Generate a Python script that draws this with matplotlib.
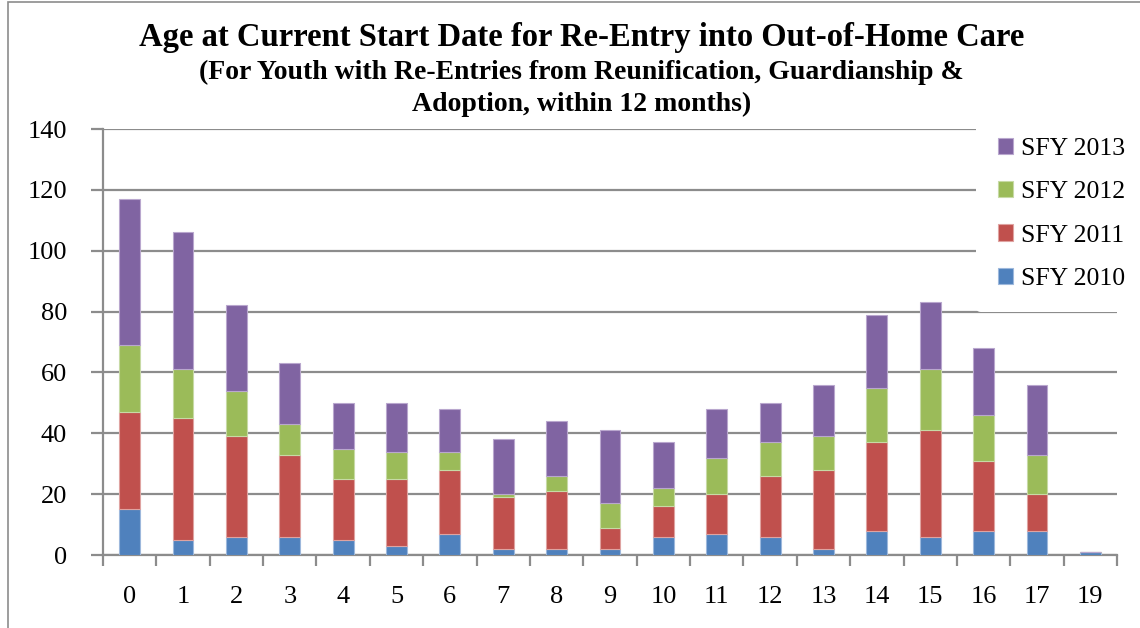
import matplotlib
matplotlib.use("Agg")
import matplotlib.pyplot as plt
import numpy as np
from matplotlib.patches import Rectangle

categories = ["0", "1", "2", "3", "4", "5", "6", "7", "8", "9", "10", "11", "12", "13", "14", "15", "16", "17", "19"]
sfy2010 = [15, 5, 6, 6, 5, 3, 7, 2, 2, 2, 6, 7, 6, 2, 8, 6, 8, 8, 1]
sfy2011 = [32, 40, 33, 27, 20, 22, 21, 17, 19, 7, 10, 13, 20, 26, 29, 35, 23, 12, 0]
sfy2012 = [22, 16, 15, 10, 10, 9, 6, 1, 5, 8, 6, 12, 11, 11, 18, 20, 15, 13, 0]
sfy2013 = [48, 45, 28, 20, 15, 16, 14, 18, 18, 24, 15, 16, 13, 17, 24, 22, 22, 23, 0]
series_names = ["SFY 2010", "SFY 2011", "SFY 2012", "SFY 2013"]
yticks = [0, 20, 40, 60, 80, 100, 120, 140]

colors = ["#4F81BD", "#C0504D", "#9BBB59", "#8064A2"]
edges = ["#9DB8DC", "#DFA3A1", "#C7DAA5", "#B9A7CE"]

plt.rcParams['font.family'] = ['Liberation Serif', 'DejaVu Serif']

fig = plt.figure(figsize=(11.4, 6.28), dpi=100)
ax = fig.add_axes([103 / 1140, 1 - 555 / 628, 1014 / 1140, 426 / 628])

x = np.arange(len(categories))
bottom = np.zeros(len(categories))
bars = []
for vals, name, c, e in zip([sfy2010, sfy2011, sfy2012, sfy2013], series_names, colors, edges):
    b = ax.bar(x, vals, width=0.39, bottom=bottom, color=c, edgecolor=e, linewidth=0.8, label=name, zorder=3)
    bars.append(b)
    bottom += np.array(vals)

ax.set_xlim(-0.5, len(categories) - 0.5)
ax.set_ylim(0, 140)
ax.set_yticks(yticks)
ax.yaxis.grid(True, color="#8C8C8C", linewidth=1.6, zorder=0)
ax.set_axisbelow(True)
ax.set_xticks(x)
ax.set_xticklabels(categories)
ax.set_xticks(np.arange(-0.5, len(categories), 1.0), minor=True)
ax.tick_params(axis='x', which='major', length=0, labelsize=19, pad=22, colors='black')
ax.tick_params(axis='x', which='minor', length=8, width=1.6, color="#8C8C8C")
ax.tick_params(axis='y', length=9, width=1.6, color="#8C8C8C", labelsize=19, pad=17)
for s in ['top', 'right']:
    ax.spines[s].set_visible(False)
for s in ['left', 'bottom']:
    ax.spines[s].set_color("#8C8C8C")
    ax.spines[s].set_linewidth(1.6)

handles = [bars[3], bars[2], bars[1], bars[0]]
labels = [series_names[3], series_names[2], series_names[1], series_names[0]]
leg = fig.legend(handles, labels, loc='upper left', bbox_to_anchor=(976 / 1140, 1 - 116 / 628),
                 frameon=True, facecolor='white', edgecolor='none', framealpha=1,
                 fontsize=18.5, labelspacing=0.82, handlelength=0.6, handleheight=0.6,
                 handletextpad=0.3, borderpad=0.85, borderaxespad=0)
leg.set_zorder(10)

fig.text(0.51, 0.940, "Age at Current Start Date for Re-Entry into Out-of-Home Care",
         ha='center', va='center', fontsize=23.5, fontweight='bold')
fig.text(0.51, 0.885, "(For Youth with Re-Entries from Reunification, Guardianship &",
         ha='center', va='center', fontsize=20, fontweight='bold')
fig.text(0.51, 0.834, "Adoption, within 12 months)",
         ha='center', va='center', fontsize=20, fontweight='bold')

fig.patches.append(Rectangle((0.007, -0.01), 1.0, 1.007, transform=fig.transFigure,
                             fill=False, edgecolor="#8C8C8C", linewidth=1.2))

fig.savefig("out.png", dpi=100)
